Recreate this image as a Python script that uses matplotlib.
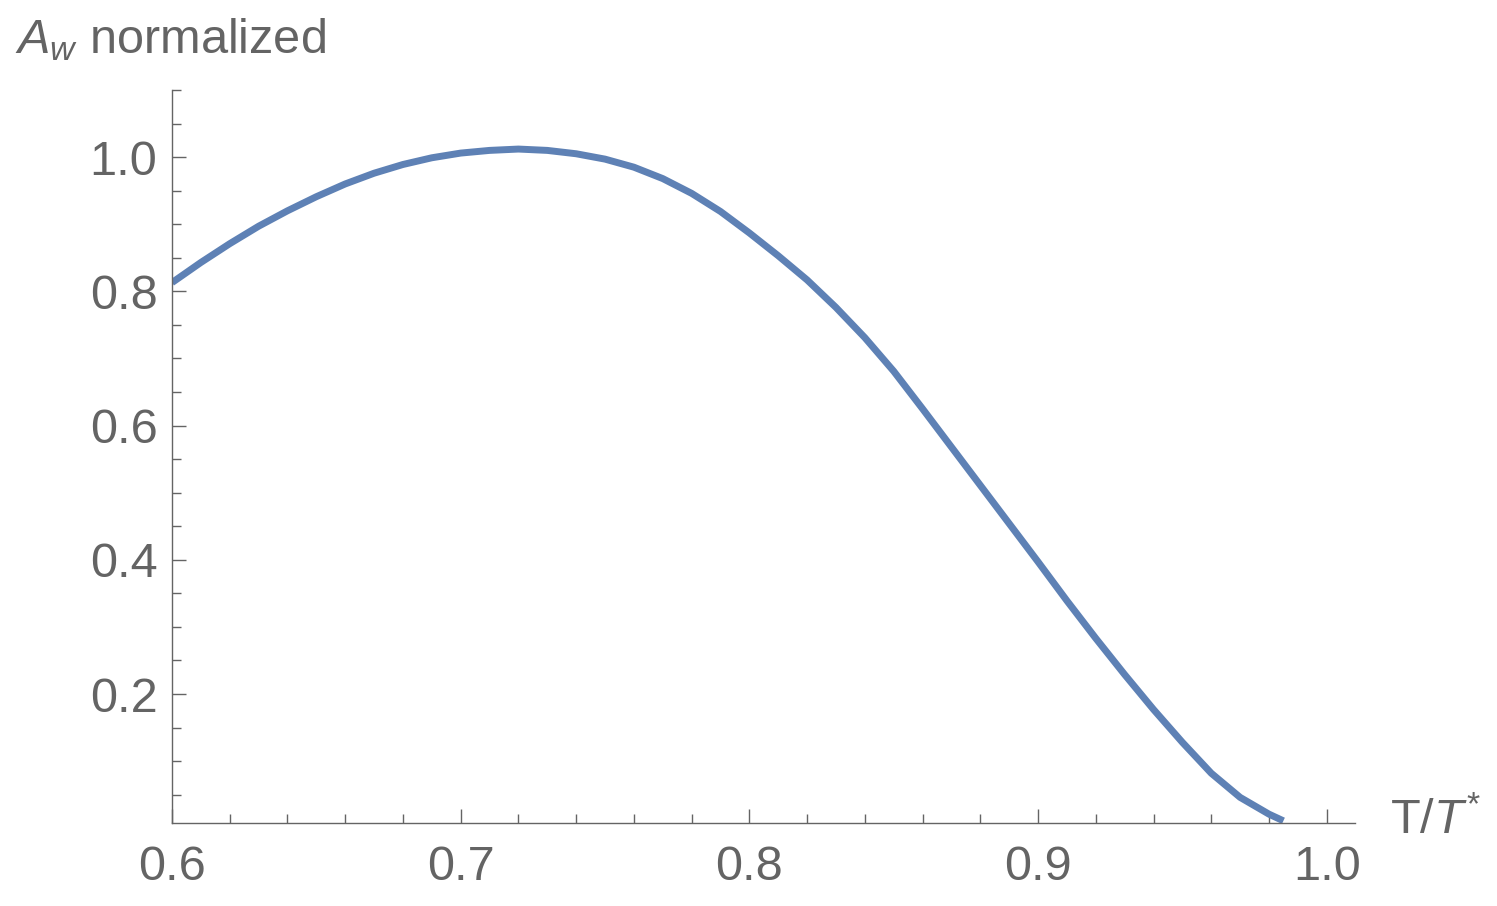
import matplotlib.pyplot as plt
from matplotlib.ticker import MultipleLocator

# Valores (T/T* e A_w normalizado)
t_ratio = [0.600, 0.610, 0.620, 0.630, 0.640, 0.650, 0.660, 0.670, 0.680, 0.690,
           0.700, 0.710, 0.720, 0.730, 0.740, 0.750, 0.760, 0.770, 0.780, 0.790,
           0.800, 0.810, 0.820, 0.830, 0.840, 0.850, 0.860, 0.870, 0.880, 0.890,
           0.900, 0.910, 0.920, 0.930, 0.940, 0.950, 0.960, 0.970, 0.980, 0.985]
a_w_norm = [0.813, 0.843, 0.871, 0.897, 0.920, 0.941, 0.960, 0.976, 0.989, 0.999,
            1.006, 1.010, 1.012, 1.010, 1.005, 0.997, 0.985, 0.968, 0.946, 0.919,
            0.887, 0.853, 0.817, 0.776, 0.731, 0.681, 0.625, 0.568, 0.511, 0.454,
            0.397, 0.339, 0.283, 0.229, 0.177, 0.128, 0.082, 0.046, 0.021, 0.011]
x_ticks = [0.6, 0.7, 0.8, 0.9, 1.0]
y_ticks = [0.2, 0.4, 0.6, 0.8, 1.0]

cinza = '#646464'  # cor dos eixos e textos
plt.rcParams['font.family'] = ['Liberation Sans', 'DejaVu Sans']
plt.rcParams['mathtext.fontset'] = 'custom'
plt.rcParams['mathtext.rm'] = 'Liberation Sans'
plt.rcParams['mathtext.it'] = 'Liberation Sans:italic'

fig = plt.figure(figsize=(14.97, 9.06), dpi=100)
ax = fig.add_axes([172 / 1497, 83 / 906, (1355 - 172) / 1497, (823 - 90) / 906])

# Curva principal
ax.plot(t_ratio, a_w_norm, color='#5E81B5', linewidth=5, solid_capstyle='butt')

# Limites e ticks no estilo do Mathematica
ax.set_xlim(0.6, 1.0098)
ax.set_ylim(0.0078, 1.1)
ax.set_xticks(x_ticks)
ax.set_xticklabels([f'{v:.1f}' for v in x_ticks])
ax.set_yticks(y_ticks)
ax.set_yticklabels([f'{v:.1f}' for v in y_ticks])
ax.xaxis.set_minor_locator(MultipleLocator(0.02))
ax.yaxis.set_minor_locator(MultipleLocator(0.05))
ax.tick_params(which='both', direction='in', colors=cinza, width=1.0, labelsize=35)
ax.tick_params(which='major', length=10)
ax.tick_params(which='minor', length=6.5)
ax.tick_params(axis='x', which='major', pad=16)
ax.tick_params(axis='y', which='major', pad=10.5)

for lado in ['top', 'right']:
    ax.spines[lado].set_visible(False)
for lado in ['left', 'bottom']:
    ax.spines[lado].set_color(cinza)
    ax.spines[lado].set_linewidth(1.0)

# Rótulos dos eixos
fig.text(15 / 1497, 1 - 53 / 906, r'$A_w$ normalized', fontsize=35, color=cinza,
         ha='left', va='baseline')
fig.text(1390 / 1497, 1 - 821 / 906, r'T/$T^{*}$', fontsize=35, color=cinza,
         ha='left', va='center')

fig.savefig('out.png', dpi=100)
